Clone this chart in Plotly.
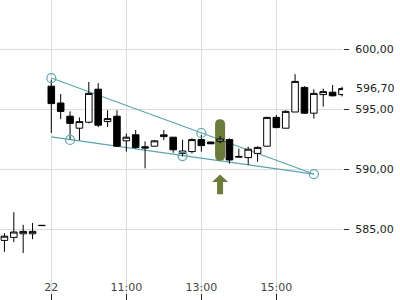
import plotly.graph_objects as go

# ---- data -------------------------------------------------------------
idx = list(range(37))
opens = [584.05, 584.30, 584.60, 584.60, 585.28,
         596.90, 595.50, 594.40, 593.40, 593.90, 596.65, 593.95, 594.40,
         592.35, 592.85, 591.85, 591.90, 592.70, 592.65, 591.30, 591.45,
         592.45, 592.25, 592.30, 592.45, 591.05, 590.95, 591.30, 591.90,
         594.30, 593.40, 594.75, 596.80, 594.65, 596.20, 596.40, 596.20]
highs = [584.65, 586.40, 585.35, 585.50, 585.30,
         597.45, 596.25, 594.80, 594.30, 597.25, 597.15, 594.90, 594.90,
         592.95, 593.25, 592.30, 592.40, 593.25, 592.65, 592.45, 592.55,
         592.85, 592.25, 592.75, 592.55, 591.70, 591.85, 591.90, 594.35,
         594.50, 594.90, 597.90, 596.90, 596.65, 596.70, 597.00, 596.85]
lows = [583.10, 583.90, 583.00, 584.15, 585.28,
        593.00, 594.15, 592.45, 592.40, 593.80, 593.50, 593.50, 591.85,
        591.45, 591.70, 590.05, 591.90, 592.40, 591.35, 591.05, 591.30,
        591.45, 592.10, 592.15, 590.45, 591.00, 590.35, 590.60, 591.90,
        593.40, 593.40, 594.75, 594.60, 594.20, 595.20, 596.05, 596.05]
closes = [584.40, 584.75, 584.80, 584.80, 585.30,
          595.45, 594.80, 593.80, 593.95, 596.30, 593.65, 594.20, 591.90,
          592.65, 591.80, 591.75, 592.35, 592.85, 591.60, 591.50, 592.45,
          591.95, 592.10, 592.50, 590.75, 591.00, 591.65, 591.80, 594.30,
          593.45, 594.80, 597.30, 594.65, 596.30, 596.45, 596.10, 596.70]

tick_idx = [5, 13, 21, 29]
tick_text = ["22", "11:00", "13:00", "15:00"]
y_ticks = [580, 585, 590, 595, 600]
last_price = 596.70

# trend lines (start/end index, value)
upper_line = [(5, 597.58), (33, 589.58)]
lower_line = [(5, 592.67), (33, 589.58)]
touch_idx = [5, 7, 19, 21, 33]
touch_val = [597.58, 592.42, 591.08, 593.00, 589.58]

# signal highlight
signal_idx = 23
signal_top = 594.14
signal_bottom = 590.69
arrow_tip = 589.55
arrow_tail = 587.90

# ---- layout geometry ---------------------------------------------------
W, H = 400, 300
mr = 57
x_range = [-0.472, 36.11]
y_range = [579.083, 604.083]
px_x = (W - mr) / (x_range[1] - x_range[0])   # px per index unit
px_y = H / (y_range[1] - y_range[0])          # px per price unit

TEAL = "#5aa6ae"
GREEN = "#6b7b3b"
FONT = "DejaVu Sans"

fig = go.Figure()

fig.add_trace(go.Candlestick(
    x=idx, open=opens, high=highs, low=lows, close=closes,
    increasing=dict(line=dict(color="black", width=1), fillcolor="white"),
    decreasing=dict(line=dict(color="black", width=1), fillcolor="black"),
    whiskerwidth=0, showlegend=False, hoverinfo="skip"))

fig.add_trace(go.Scatter(
    x=touch_idx, y=touch_val, mode="markers",
    marker=dict(symbol="circle-open", size=9, color=TEAL, line=dict(width=1.2)),
    showlegend=False, hoverinfo="skip"))

shapes = []
for ln in (upper_line, lower_line):
    shapes.append(dict(type="line", xref="x", yref="y",
                       x0=ln[0][0], y0=ln[0][1], x1=ln[1][0], y1=ln[1][1],
                       line=dict(color=TEAL, width=1.2), layer="between"))

# rounded pill highlight
hw = 5 / px_x
ry = 5 / px_y
xc = signal_idx
pill = (f"M {xc-hw},{signal_top-ry} L {xc-hw},{signal_bottom+ry} "
        f"Q {xc-hw},{signal_bottom} {xc},{signal_bottom} "
        f"Q {xc+hw},{signal_bottom} {xc+hw},{signal_bottom+ry} "
        f"L {xc+hw},{signal_top-ry} "
        f"Q {xc+hw},{signal_top} {xc},{signal_top} "
        f"Q {xc-hw},{signal_top} {xc-hw},{signal_top-ry} Z")
shapes.append(dict(type="path", xref="x", yref="y", path=pill,
                   fillcolor=GREEN, line=dict(width=0), layer="between"))

# up arrow
head_hw = 8 / px_x
shaft_hw = 3 / px_x
head_base = arrow_tip - 7.5 / px_y
arrow = (f"M {xc},{arrow_tip} L {xc+head_hw},{head_base} L {xc+shaft_hw},{head_base} "
         f"L {xc+shaft_hw},{arrow_tail} L {xc-shaft_hw},{arrow_tail} "
         f"L {xc-shaft_hw},{head_base} L {xc-head_hw},{head_base} Z")
shapes.append(dict(type="path", xref="x", yref="y", path=arrow,
                   fillcolor=GREEN, line=dict(width=0), layer="between"))

fig.update_layout(
    width=W, height=H,
    margin=dict(l=0, r=mr, t=0, b=0),
    paper_bgcolor="white", plot_bgcolor="white",
    separators=",.",
    boxgap=0, boxgroupgap=0.3,
    font=dict(family=FONT, size=11, color="#222"),
    shapes=shapes,
    annotations=[dict(xref="paper", yref="y", x=1, y=last_price,
                      xanchor="left", yanchor="middle", xshift=11,
                      text=f"{last_price:.2f}".replace(".", ","),
                      showarrow=False, font=dict(family=FONT, size=11, color="#222"))],
    xaxis=dict(range=x_range, tickmode="array", tickvals=tick_idx, ticktext=tick_text,
               showgrid=True, gridcolor="#dcdcdc", gridwidth=1,
               ticks="inside", ticklen=6, tickcolor="#222",
               ticklabelposition="inside", showline=False, zeroline=False,
               rangeslider=dict(visible=False), fixedrange=True),
    yaxis=dict(range=y_range, side="right", tickmode="array", tickvals=y_ticks,
               tickformat=".2f", showgrid=True, gridcolor="#dcdcdc", gridwidth=1,
               ticks="outside", ticklen=5, tickcolor="#222", ticklabelstandoff=4,
               showline=False, zeroline=False, fixedrange=True),
)

fig.write_html("out.html")
